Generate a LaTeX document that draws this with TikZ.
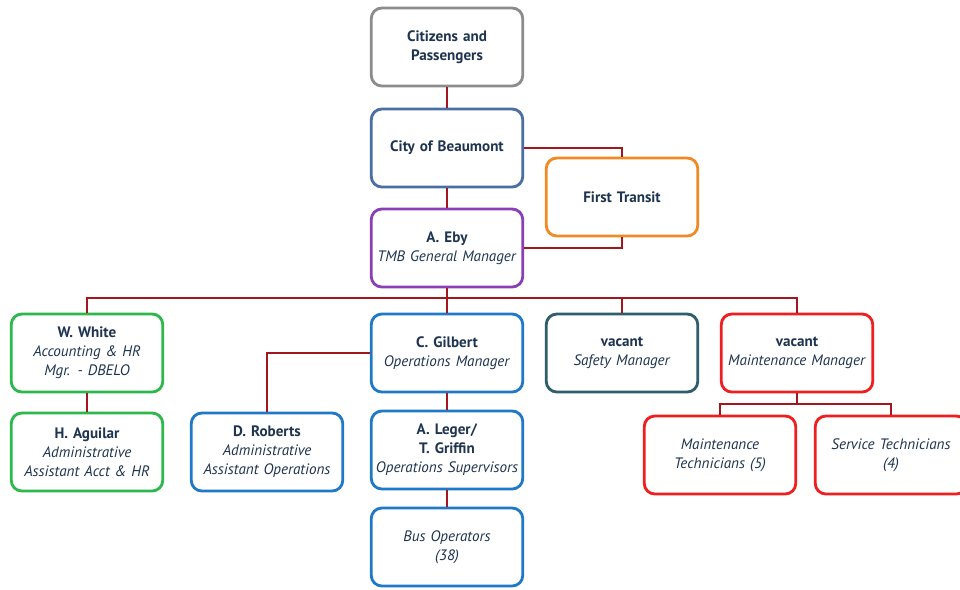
\documentclass[tikz,border=0pt]{standalone}
\usepackage{fontspec}
\setmainfont{PT Sans}
\usepackage{tikz}
\usetikzlibrary{positioning}
\definecolor{TextNavy}{HTML}{1F3450}
\definecolor{LinkRed}{HTML}{A3161D}
\definecolor{BoxGray}{HTML}{8C8C8C}
\definecolor{BoxSteel}{HTML}{4A6FA5}
\definecolor{BoxOrange}{HTML}{F08A24}
\definecolor{BoxPurple}{HTML}{8B3FB5}
\definecolor{BoxGreen}{HTML}{2DB84B}
\definecolor{BoxBlue}{HTML}{1F78C8}
\definecolor{BoxTeal}{HTML}{2E5E6B}
\definecolor{BoxRed}{HTML}{F01E1E}
\newcommand{\who}[1]{\textbf{#1}}
\newcommand{\job}[1]{\textit{#1}}

\begin{document}
\begin{tikzpicture}[
x=0.02cm, y=-0.02cm,
OrgBox/.style={draw, line width=1.6pt, fill=white, rounded corners=6pt,
  minimum width=2.98cm, minimum height=1.56cm, inner sep=1pt,
  align=center, text width=2.96cm, text=TextNavy,
  font=\fontsize{8.6}{10.8}\selectfont},
Link/.style={draw=LinkRed, line width=1.1pt}
]
%\draw[gray!30] (0,0) grid[step=50] (960,589);
\clip (0,0) rectangle (960,589);
\fill[white] (0,0) rectangle (960,589);

% top of the chart
\node[OrgBox, draw=BoxGray]   (citizens) at (447,47)  {\who{Citizens and}\\\who{Passengers}};
\node[OrgBox, draw=BoxSteel]  (city)     at (447,148) {\who{City of Beaumont}};
\node[OrgBox, draw=BoxOrange] (first)    at (622,197) {\who{First Transit}};
\node[OrgBox, draw=BoxPurple] (eby)      at (447,248) {\who{A. Eby}\\\job{TMB General Manager}};

% managers
\node[OrgBox, draw=BoxGreen]  (white)    at (87,353)  {\who{W. White}\\\job{Accounting \& HR}\\\job{Mgr. - DBELO}};
\node[OrgBox, draw=BoxBlue]   (gilbert)  at (447,353) {\who{C. Gilbert}\\\job{Operations Manager}};
\node[OrgBox, draw=BoxTeal]   (safety)   at (622,353) {\who{vacant}\\\job{Safety Manager}};
\node[OrgBox, draw=BoxRed]    (maint)    at (797,353) {\who{vacant}\\\job{Maintenance Manager}};

% staff
\node[OrgBox, draw=BoxGreen]  (aguilar)  at (87,452)  {\who{H. Aguilar}\\\job{Administrative}\\\job{Assistant Acct \& HR}};
\node[OrgBox, draw=BoxBlue]   (roberts)  at (267,452) {\who{D. Roberts}\\\job{Administrative}\\\job{Assistant Operations}};
\node[OrgBox, draw=BoxBlue]   (leger)    at (447,450) {\who{A. Leger/}\\\who{T. Griffin}\\\job{Operations Supervisors}};
\node[OrgBox, draw=BoxBlue]   (busops)   at (447,547) {\job{Bus Operators}\\\job{(38)}};
\node[OrgBox, draw=BoxRed]    (mtech)    at (720,455) {\job{Maintenance}\\\job{Technicians (5)}};
\node[OrgBox, draw=BoxRed]    (stech)    at (891,455) {\job{Service Technicians}\\\job{(4)}};

\coordinate (bus)  at (447,298);
\coordinate (mbus) at (797,404);

% connectors
\draw[Link] (citizens) -- (city);
\draw[Link] (city) -- (eby);
\draw[Link] (city.east) -| (first.north);
\draw[Link] (eby.east) -| (first.south);
\draw[Link] (eby) -- (bus);
\draw[Link] (white.north) |- (bus) -| (maint.north);
\draw[Link] (bus) -- (gilbert);
\draw[Link] (bus) -| (safety.north);
\draw[Link] (white) -- (aguilar);
\draw[Link] (gilbert.west) -| (roberts.north);
\draw[Link] (gilbert) -- (leger);
\draw[Link] (leger) -- (busops);
\draw[Link] (maint) -- (mbus);
\draw[Link] (mtech.north) |- (mbus) -| (stech.north);

\end{tikzpicture}
\end{document}
